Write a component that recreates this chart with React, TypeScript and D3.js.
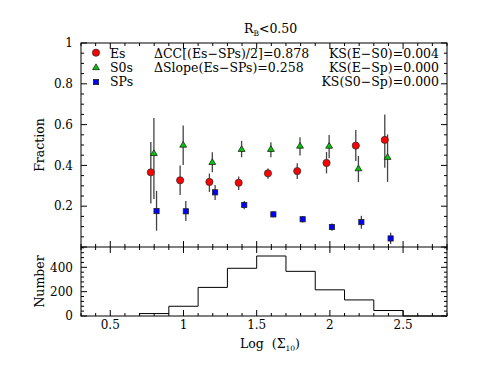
import React from "react";
import * as d3 from "d3";

// ---- data ----
const esX = [0.777, 0.977, 1.177, 1.377, 1.577, 1.777, 1.977, 2.177, 2.375];
const esY = [0.366, 0.327, 0.319, 0.315, 0.361, 0.372, 0.412, 0.497, 0.525];
const esLo = [0.213, 0.255, 0.27, 0.28, 0.335, 0.333, 0.361, 0.422, 0.389];
const esHi = [0.515, 0.399, 0.36, 0.345, 0.385, 0.41, 0.466, 0.574, 0.65];

const s0X = [0.798, 0.998, 1.197, 1.397, 1.597, 1.796, 1.995, 2.195, 2.394];
const s0Y = [0.459, 0.5, 0.415, 0.479, 0.479, 0.495, 0.495, 0.384, 0.44];
const s0Lo = [0.235, 0.402, 0.366, 0.44, 0.44, 0.448, 0.435, 0.319, 0.319];
const s0Hi = [0.632, 0.595, 0.464, 0.52, 0.513, 0.538, 0.549, 0.446, 0.552];

const spX = [0.816, 1.016, 1.216, 1.415, 1.614, 1.814, 2.014, 2.215, 2.415];
const spY = [0.176, 0.175, 0.268, 0.206, 0.16, 0.136, 0.098, 0.122, 0.042];
const spLo = [0.08, 0.127, 0.23, 0.185, 0.145, 0.12, 0.08, 0.09, 0.015];
const spHi = [0.275, 0.225, 0.304, 0.225, 0.175, 0.15, 0.115, 0.153, 0.07];

const binEdges = [0.7, 0.9, 1.1, 1.3, 1.5, 1.7, 1.9, 2.1, 2.3, 2.5];
const binCounts = [20, 80, 235, 392, 493, 367, 215, 132, 45];

const xTicks = [0.5, 1, 1.5, 2, 2.5];
const yTicks = [0.2, 0.4, 0.6, 0.8, 1];
const nTicks = [0, 200, 400];

const legendLabels = ["Es", "S0s", "SPs"];
const statsLeft = ["ΔCC[(Es−SPs)/2]=0.878", "ΔSlope(Es−SPs)=0.258"];
const statsRight = ["KS(E−S0)=0.004", "KS(E−Sp)=0.000", "KS(S0−Sp)=0.000"];

// ---- layout ----
const W = 496, H = 383;
const L = 81, R = 447, T = 43, M = 247, B = 316;
const FONT = "DejaVu Serif";

export default function App() {
  const x = d3.scaleLinear().domain([0.3, 2.8]).range([L, R]);
  const y = d3.scaleLinear().domain([0, 1]).range([M, T]);
  const yn = d3.scaleLinear().domain([0, 567]).range([B, M]);

  const xMinor = d3.range(0.3, 2.80001, 0.1).map((v) => +v.toFixed(2));
  const yMinor = d3.range(0, 1.0001, 0.05).map((v) => +v.toFixed(2));
  const nMinor = d3.range(0, 567, 40);

  const maj = 6, mnr = 3;
  const tickCol = "#000";

  const stepPts: [number, number][] = [];
  binCounts.forEach((c, i) => {
    stepPts.push([binEdges[i], c]);
    stepPts.push([binEdges[i + 1], c]);
  });
  const histPath =
    d3.line()([
      [x(binEdges[0]), yn(0)],
      ...stepPts.map(([a, b]) => [x(a), yn(b)] as [number, number]),
      [x(binEdges[binEdges.length - 1]), yn(0)],
      [x(2.8), yn(0)],
    ]) || "";

  const errBars = (xs: number[], lo: number[], hi: number[], key: string) =>
    xs.map((xv, i) => (
      <line
        key={key + i}
        x1={x(xv)}
        x2={x(xv)}
        y1={y(Math.max(lo[i], 0))}
        y2={y(hi[i])}
        stroke="#444"
        strokeWidth={1.3}
      />
    ));

  const tri = (cx: number, cy: number, s: number) =>
    `M${cx},${cy - s} L${cx + s * 0.95},${cy + s * 0.6} L${cx - s * 0.95},${cy + s * 0.6} Z`;

  const legendY = [52.7, 67.5, 82];
  const rowBase = [57.5, 71.7, 86];

  return (
    <svg width={W} height={H} style={{ display: "block", position: "absolute", left: 0, top: 0 }}>
      <rect x={0} y={0} width={W} height={H} fill="#fff" />

      {errBars(esX, esLo, esHi, "e")}
      {errBars(s0X, s0Lo, s0Hi, "s")}
      {errBars(spX, spLo, spHi, "p")}

      {s0X.map((xv, i) => (
        <path key={"st" + i} d={tri(x(xv), y(s0Y[i]), 3.6)} fill="#00c800" stroke="#222" strokeWidth={0.8} />
      ))}
      {spX.map((xv, i) => (
        <rect key={"sq" + i} x={x(xv) - 2.6} y={y(spY[i]) - 2.6} width={5.2} height={5.2} fill="#0000ff" stroke="#222" strokeWidth={0.8} />
      ))}
      {esX.map((xv, i) => (
        <circle key={"ec" + i} cx={x(xv)} cy={y(esY[i])} r={3.6} fill="#ff0000" stroke="#333" strokeWidth={0.8} />
      ))}

      <path d={histPath} fill="none" stroke="#000" strokeWidth={1} />

      <rect x={L} y={T} width={R - L} height={B - T} fill="none" stroke="#000" strokeWidth={1} />
      <line x1={L} x2={R} y1={M} y2={M} stroke="#000" strokeWidth={1} />

      {xMinor.map((v, i) => {
        const isMaj = xTicks.some((t) => Math.abs(t - v) < 1e-6);
        const len = isMaj ? maj : mnr;
        const px = x(v);
        return (
          <g key={"xt" + i} stroke={tickCol} strokeWidth={1}>
            <line x1={px} x2={px} y1={T} y2={T + len} />
            <line x1={px} x2={px} y1={M} y2={M - len} />
            <line x1={px} x2={px} y1={M} y2={M + len} />
            <line x1={px} x2={px} y1={B} y2={B - len} />
          </g>
        );
      })}
      {yMinor.map((v, i) => {
        const isMaj = Math.abs(v * 5 - Math.round(v * 5)) < 1e-6;
        const len = isMaj ? maj : mnr;
        const py = y(v);
        return (
          <g key={"yt" + i} stroke={tickCol} strokeWidth={1}>
            <line x1={L} x2={L + len} y1={py} y2={py} />
            <line x1={R} x2={R - len} y1={py} y2={py} />
          </g>
        );
      })}
      {nMinor.map((v, i) => {
        const isMaj = v % 200 === 0;
        const len = isMaj ? maj : mnr;
        const py = yn(v);
        return (
          <g key={"nt" + i} stroke={tickCol} strokeWidth={1}>
            <line x1={L} x2={L + len} y1={py} y2={py} />
            <line x1={R} x2={R - len} y1={py} y2={py} />
          </g>
        );
      })}

      <g fontFamily={FONT} fontSize={12} fill="#000">
        {xTicks.map((v) => (
          <text key={"xl" + v} x={x(v)} y={329} textAnchor="middle">
            {String(v)}
          </text>
        ))}
        {yTicks.map((v) => (
          <text key={"yl" + v} x={73} y={y(v)} dy="0.35em" textAnchor="end">
            {v === 1 ? "1" : v.toFixed(1)}
          </text>
        ))}
        {nTicks.map((v) => (
          <text key={"nl" + v} x={73} y={yn(v)} dy="0.35em" textAnchor="end">
            {String(v)}
          </text>
        ))}
      </g>

      <g fontFamily={FONT} fontSize={12.5} fill="#000">
        <text x={0} y={0} transform={`translate(44,${(T + M) / 2}) rotate(-90)`} textAnchor="middle">
          Fraction
        </text>
        <text x={0} y={0} transform={`translate(44,${(M + B) / 2}) rotate(-90)`} textAnchor="middle">
          Number
        </text>
        <text x={240} y={348}>
          {"Log\u00a0\u00a0(Σ"}
          <tspan fontSize={7.5} dy={3}>10</tspan>
          <tspan dy={-3}>)</tspan>
        </text>
        <text x={244} y={33}>
          R<tspan fontSize={7.5} dy={3}>B</tspan>
          <tspan dy={-3}>&lt;0.50</tspan>
        </text>
      </g>

      <circle cx={96} cy={legendY[0]} r={3.6} fill="#ff0000" stroke="#333" strokeWidth={0.8} />
      <path d={tri(96, legendY[1], 3.6)} fill="#00c800" stroke="#222" strokeWidth={0.8} />
      <rect x={96 - 2.6} y={legendY[2] - 2.6} width={5.2} height={5.2} fill="#0000ff" stroke="#222" strokeWidth={0.8} />
      <g fontFamily={FONT} fontSize={12.5} fill="#000">
        {legendLabels.map((s, i) => (
          <text key={s} x={110} y={rowBase[i]}>
            {s}
          </text>
        ))}
        {statsLeft.map((s, i) => (
          <text key={s} x={154} y={rowBase[i]}>
            {s}
          </text>
        ))}
        {statsRight.map((s, i) => (
          <text key={s} x={439} y={rowBase[i]} textAnchor="end">
            {s}
          </text>
        ))}
      </g>
    </svg>
  );
}
